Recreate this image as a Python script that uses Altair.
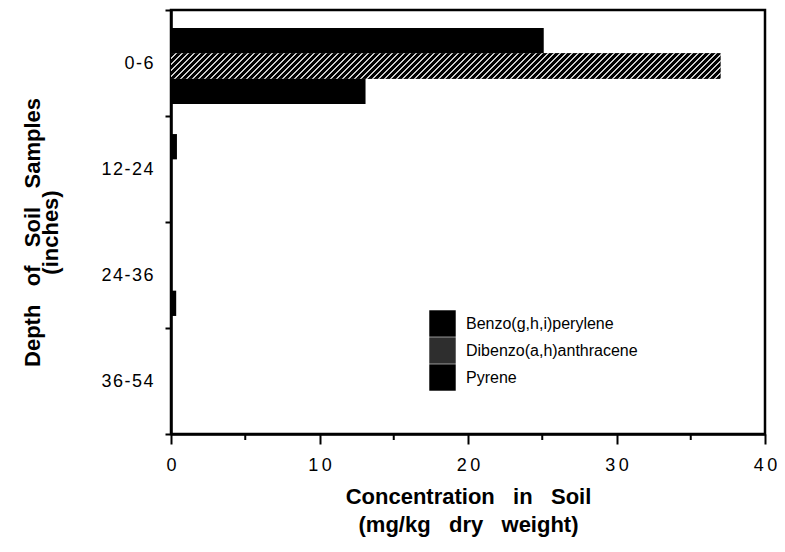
import altair as alt
import pandas as pd

# ---- data ----
depths = ["0-6", "12-24", "24-36", "36-54"]
series = ["Benzo(g,h,i)perylene", "Dibenzo(a,h)anthracene", "Pyrene"]
benzo = [25.1, 0.4, 0.0, 0.0]
dibenzo = [37.0, 0.0, 0.0, 0.0]
pyrene = [13.1, 0.0, 0.35, 0.0]
x_major = [0, 10, 20, 30, 40]
x_minor = [5, 15, 25, 35]

rows = []
for s, vals in zip(series, [benzo, dibenzo, pyrene]):
    for d, v in zip(depths, vals):
        rows.append({"depth": d, "compound": s, "conc": v})
df = pd.DataFrame(rows)
minor_df = pd.DataFrame({"v": x_minor})

# ---- layout ----
W, H = 594, 424
XMAX = 40
FONT = "Liberation Sans"
SUB_PAD = 0.595
HAIR = "\u200a"
THIN = "\u2009"
GAP = "\u00a0\u00a0 "

# diagonal hatch for the Dibenzo bar, built as a striped linear gradient
band = H / len(depths)
bar_h = band / (3 + 2 * SUB_PAD)
bar_w = max(dibenzo) / XMAX * W
k = bar_h / bar_w
a = (1 + k) / (1 + k * k)
L = bar_w + bar_h
period, lw = 6.0, 1.5
stops = []
i = 0
while i * period < L:
    s0 = min(i * period / L, 1)
    s1 = min((i * period + period - lw) / L, 1)
    s2 = min((i * period + period) / L, 1)
    stops += [
        {"offset": s0, "color": "#000000"},
        {"offset": s1, "color": "#000000"},
        {"offset": s1, "color": "#cccccc"},
        {"offset": s2, "color": "#cccccc"},
    ]
    i += 1
hatch_fill = {"gradient": "linear", "x1": 0, "y1": 0, "x2": a, "y2": k * a, "stops": stops}

y_spaced = "join(split(datum.label, ''), '" + HAIR + "')"
x_spaced = "join(split(datum.label, ''), '" + THIN + "')"

y_enc = alt.Y(
    "depth:N",
    sort=depths,
    scale=alt.Scale(domain=depths, paddingInner=0, paddingOuter=0),
    axis=alt.Axis(
        title=["Depth" + GAP + "of" + GAP + "Soil" + GAP + "Samples", "(inches)"],
        tickBand="extent",
        tickSize=6,
        tickWidth=2,
        tickColor="black",
        domainColor="black",
        domainWidth=2.5,
        labelFont=FONT,
        labelFontSize=18,
        labelColor="black",
        labelPadding=12,
        labelExpr=y_spaced,
        titleFont=FONT,
        titleFontSize=22,
        titleFontWeight="bold",
        titleColor="black",
        titleLineHeight=18,
        titlePadding=38,
        titleY=222,
    ),
)
yoff = alt.YOffset(
    "compound:N",
    scale=alt.Scale(domain=series, paddingInner=0, paddingOuter=SUB_PAD, align=0.6),
)
x_enc = alt.X(
    "conc:Q",
    scale=alt.Scale(domain=[0, XMAX], nice=False, zero=True),
    axis=alt.Axis(
        title=["Concentration" + GAP + "in" + GAP + "Soil", "(mg/kg" + GAP + "dry" + GAP + "weight)"],
        values=x_major,
        grid=False,
        tickSize=10,
        tickWidth=2,
        tickColor="black",
        domainColor="black",
        domainWidth=2.5,
        labelFont=FONT,
        labelFontSize=18,
        labelColor="black",
        labelPadding=12,
        labelFlush=False,
        labelOverlap=False,
        labelExpr=x_spaced,
        titleFont=FONT,
        titleFontSize=22,
        titleFontWeight="bold",
        titleColor="black",
        titleLineHeight=28,
        titlePadding=12,
    ),
)
color = alt.Color(
    "compound:N",
    scale=alt.Scale(domain=series, range=["#000000", "#2e2e2e", "#000000"]),
    legend=alt.Legend(
        title=None,
        orient="none",
        legendX=258,
        legendY=300,
        symbolType="square",
        symbolSize=700,
        symbolStrokeWidth=0,
        symbolOpacity=1,
        rowPadding=0,
        labelFont=FONT,
        labelFontSize=16,
        labelColor="black",
        labelOffset=10,
        labelLimit=400,
        padding=0,
    ),
)

base = alt.Chart(df).transform_filter(alt.datum.conc > 0)

bars = base.mark_bar(strokeWidth=0).encode(y=y_enc, yOffset=yoff, x=x_enc, color=color)

hatch = (
    base.transform_filter(alt.datum.compound == series[1])
    .mark_bar(fill=hatch_fill, strokeWidth=0)
    .encode(y=alt.Y("depth:N", sort=depths), yOffset=alt.YOffset("compound:N"), x=alt.X("conc:Q"))
)

minor = (
    alt.Chart(minor_df)
    .mark_rule(color="black", strokeWidth=2)
    .encode(x=alt.X("v:Q"), y=alt.value(H), y2=alt.value(H + 6))
)

chart = (
    alt.layer(bars, hatch, minor)
    .properties(
        width=W,
        height=H,
        autosize=alt.AutoSizeParams(type="none"),
        padding={"left": 163, "top": 2, "right": 12, "bottom": 110},
        background="white",
    )
    .configure_view(stroke="black", strokeWidth=2.5)
)

chart.save("out.html", embed_options={"renderer": "svg", "actions": False})
